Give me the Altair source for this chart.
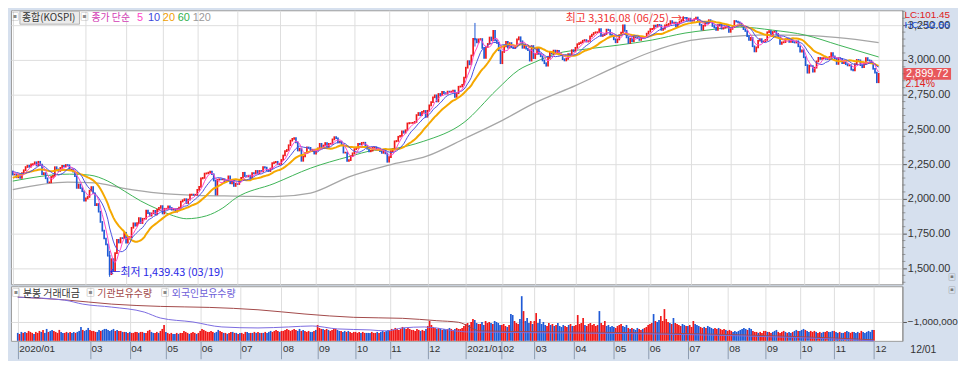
import altair as alt
import pandas as pd

# ---------------- data (KOSPI daily closes, read/estimated) ----------------
pre_2019_12 = [2087, 2068, 2068, 2064, 2081, 2098, 2099, 2105, 2137, 2170, 2168, 2195, 2195, 2196, 2204, 2203, 2190, 2197, 2204, 2197]

c2020_01 = [2175, 2176, 2155, 2176, 2151, 2186, 2206, 2229, 2239, 2231, 2248, 2251, 2263, 2240, 2267, 2246, 2177, 2185, 2148, 2119]
c2020_02 = [2119, 2158, 2166, 2228, 2212, 2201, 2223, 2238, 2233, 2244, 2242, 2209, 2210, 2196, 2163, 2079, 2104, 2077, 2055, 1987]
c2020_03 = [2003, 2014, 2059, 2085, 2040, 1955, 1963, 1908, 1834, 1771, 1715, 1672, 1591, 1458, 1566, 1482, 1610, 1705, 1686, 1718, 1717, 1755]
c2020_04 = [1685, 1725, 1725, 1792, 1824, 1807, 1826, 1861, 1826, 1857, 1857, 1915, 1898, 1879, 1896, 1914, 1889, 1923, 1935, 1948]
c2020_05 = [1895, 1929, 1929, 1946, 1935, 1922, 1925, 1908, 1927, 1937, 1981, 1990, 1998, 1970, 1995, 2030, 2031, 2029, 2030]
c2020_06 = [2065, 2087, 2147, 2151, 2182, 2184, 2189, 2196, 2177, 2132, 2031, 2138, 2141, 2140, 2141, 2127, 2131, 2162, 2112, 2135, 2093, 2108]
c2020_07 = [2107, 2135, 2152, 2188, 2164, 2161, 2167, 2150, 2186, 2184, 2201, 2184, 2201, 2198, 2229, 2225, 2207, 2200, 2218, 2257, 2263, 2267, 2249]
c2020_08 = [2251, 2280, 2312, 2343, 2352, 2386, 2419, 2432, 2438, 2407, 2348, 2361, 2274, 2305, 2330, 2370, 2367, 2344, 2354, 2326]
c2020_09 = [2350, 2363, 2396, 2368, 2384, 2402, 2376, 2396, 2397, 2428, 2444, 2436, 2406, 2412, 2389, 2333, 2333, 2273, 2279, 2308, 2328]
c2020_10 = [2358, 2366, 2396, 2392, 2403, 2404, 2380, 2361, 2342, 2347, 2369, 2371, 2355, 2361, 2344, 2331, 2345, 2327, 2267]
c2020_11 = [2300, 2343, 2357, 2414, 2417, 2447, 2453, 2486, 2476, 2494, 2543, 2546, 2546, 2547, 2554, 2603, 2618, 2602, 2626, 2633, 2591]
c2020_12 = [2634, 2673, 2696, 2731, 2745, 2701, 2755, 2746, 2770, 2761, 2757, 2772, 2770, 2772, 2779, 2734, 2760, 2807, 2809, 2821, 2873]
c2021_01 = [2944, 2991, 2968, 3032, 3152, 3148, 3126, 3148, 3150, 3086, 3014, 3093, 3115, 3161, 3141, 3209, 3140, 3123, 3069, 2976]
c2021_02 = [3057, 3097, 3130, 3088, 3121, 3091, 3085, 3101, 3147, 3163, 3134, 3087, 3108, 3080, 3070, 2995, 3100, 3013]
c2021_03 = [3043, 3083, 3044, 3026, 2996, 2976, 2958, 3014, 3054, 3046, 3067, 3048, 3066, 3040, 3035, 3005, 2996, 3008, 3041, 3036, 3070, 3061]
c2021_04 = [3087, 3113, 3121, 3127, 3138, 3143, 3132, 3136, 3169, 3182, 3194, 3199, 3199, 3221, 3172, 3178, 3186, 3218, 3215, 3181, 3174, 3148]
c2021_05 = [3127, 3147, 3179, 3197, 3249, 3209, 3162, 3122, 3153, 3135, 3173, 3162, 3156, 3144, 3162, 3166, 3165, 3189, 3204]
c2021_06 = [3222, 3224, 3247, 3240, 3252, 3248, 3216, 3224, 3249, 3252, 3259, 3279, 3265, 3268, 3241, 3264, 3276, 3286, 3303, 3302, 3287, 3297]
c2021_07 = [3282, 3282, 3293, 3305, 3285, 3253, 3218, 3246, 3271, 3265, 3286, 3277, 3244, 3233, 3215, 3250, 3254, 3225, 3232, 3237, 3243, 3202]
c2021_08 = [3223, 3237, 3280, 3276, 3270, 3260, 3243, 3221, 3208, 3171, 3143, 3159, 3098, 3061, 3090, 3138, 3149, 3129, 3134, 3144, 3199]
c2021_09 = [3207, 3176, 3201, 3203, 3187, 3163, 3115, 3126, 3128, 3149, 3153, 3130, 3141, 3128, 3125, 3134, 3098, 3060, 3069]
c2021_10 = [3019, 2962, 2908, 2959, 2956, 2916, 2944, 2989, 3015, 3007, 3013, 3013, 3007, 3006, 3021, 3049, 3025, 3010, 2971]
c2021_11 = [3013, 3008, 2976, 2983, 2969, 2960, 2962, 2930, 2925, 2969, 3000, 2997, 2962, 2947, 2971, 3013, 2997, 2994, 2980, 2936, 2909, 2839]
c2021_12 = [2899.72]

# daily bar values (lower panel)
v2020_01 = [8, 7, 9, 8, 9, 8, 10, 9, 8, 7, 9, 8, 10, 9, 11, 8, 12, 9, 10, 11]
v2020_02 = [10, 9, 8, 11, 9, 8, 8, 9, 8, 9, 8, 9, 8, 9, 10, 14, 11, 10, 11, 13]
v2020_03 = [11, 10, 10, 9, 9, 11, 10, 11, 12, 12, 11, 10, 11, 12, 10, 11, 10, 10, 9, 9, 9, 8]
v2020_04 = [9, 8, 8, 9, 9, 8, 9, 9, 8, 8, 10, 11, 9, 8, 8, 9, 8, 10, 12, 16]
v2020_05 = [9, 8, 7, 8, 7, 7, 8, 7, 8, 8, 10, 9, 8, 7, 8, 9, 8, 7, 8]
v2020_06 = [10, 12, 11, 10, 9, 9, 10, 9, 8, 9, 11, 10, 9, 8, 8, 7, 8, 9, 9, 8, 8, 7]
v2020_07 = [8, 8, 7, 9, 9, 8, 8, 8, 9, 8, 9, 8, 8, 8, 9, 8, 9, 10, 9, 10, 11, 10, 9]
v2020_08 = [10, 10, 11, 12, 11, 10, 11, 12, 11, 10, 12, 10, 11, 10, 9, 10, 9, 9, 10, 11]
v2020_09 = [16, 13, 12, 12, 11, 12, 11, 10, 11, 12, 12, 11, 10, 10, 9, 10, 9, 10, 9, 8, 9]
v2020_10 = [9, 8, 9, 8, 9, 8, 8, 8, 8, 9, 8, 8, 9, 8, 9, 10, 9, 10, 11]
v2020_11 = [10, 12, 11, 13, 12, 11, 12, 14, 13, 12, 13, 12, 11, 11, 10, 12, 11, 10, 11, 10, 12]
v2020_12 = [15, 20, 16, 14, 13, 12, 13, 12, 11, 12, 11, 12, 13, 12, 11, 12, 13, 12, 12, 13, 15]
v2021_01 = [17, 18, 16, 19, 22, 21, 18, 17, 17, 19, 16, 20, 18, 19, 18, 17, 20, 19, 18, 16]
v2021_02 = [16, 17, 15, 14, 16, 27, 26, 20, 18, 17, 22, 45, 30, 20, 23, 18, 20, 17]
v2021_03 = [20, 28, 18, 22, 17, 19, 16, 15, 18, 16, 17, 15, 16, 18, 15, 14, 16, 15, 14, 16, 17, 15]
v2021_04 = [15, 16, 26, 17, 18, 23, 16, 15, 17, 18, 16, 17, 15, 16, 30, 18, 16, 20, 15, 16, 14, 15]
v2021_05 = [14, 13, 15, 16, 17, 15, 14, 16, 13, 12, 13, 12, 11, 13, 12, 11, 12, 13, 14]
v2021_06 = [16, 17, 18, 27, 20, 19, 21, 25, 20, 32, 22, 19, 18, 17, 23, 18, 17, 16, 15, 17, 16, 15]
v2021_07 = [15, 16, 14, 20, 17, 16, 15, 14, 13, 14, 13, 15, 14, 13, 12, 13, 12, 13, 12, 11, 12, 11]
v2021_08 = [10, 11, 10, 9, 10, 9, 10, 11, 12, 13, 12, 11, 13, 12, 10, 9, 9, 8, 9, 8, 10]
v2021_09 = [10, 9, 9, 8, 9, 10, 11, 9, 8, 9, 10, 9, 8, 9, 8, 9, 10, 11, 10]
v2021_10 = [10, 11, 12, 11, 10, 9, 10, 9, 10, 9, 8, 9, 8, 9, 9, 10, 9, 9, 10]
v2021_11 = [10, 9, 8, 9, 8, 8, 9, 10, 9, 8, 9, 9, 8, 9, 8, 10, 9, 8, 9, 10, 9, 11]
v2021_12 = [11]

month_labels = ["2020/01", "", "03", "04", "05", "06", "07", "08", "09", "10", "11", "12",
                "2021/01", "02", "03", "04", "05", "06", "07", "08", "09", "10", "11", "12"]

# moving averages 60 / 120 (trading-day index, value)
ma60_idx = [0, 31, 42, 52, 61, 70, 79, 88, 95, 106, 115, 122, 143, 163, 184, 198, 206, 225, 247, 265, 277, 286, 297, 314, 332, 350, 368, 380, 398, 416, 434, 452, 474]
ma60_val = [2128, 2178, 2171, 2128, 2057, 1985, 1928, 1878, 1857, 1878, 1935, 2005, 2110, 2221, 2304, 2350, 2357, 2415, 2550, 2786, 2928, 2985, 3043, 3078, 3107, 3143, 3193, 3214, 3236, 3214, 3178, 3107, 3021]
ma120_idx = [0, 30, 45, 60, 80, 100, 123, 143, 163, 184, 206, 227, 248, 268, 286, 308, 330, 349, 371, 393, 414, 433, 452, 474]
ma120_val = [2066, 2120, 2115, 2078, 2041, 2025, 2020, 2016, 2042, 2158, 2243, 2309, 2438, 2565, 2692, 2815, 2950, 3055, 3140, 3168, 3180, 3176, 3160, 3125]

# holdings lines in the lower panel
inst_idx = [0, 26, 52, 79, 106, 133, 159, 186, 213, 232, 244, 256, 300, 350, 400, 450, 474]
inst_val = [250000, 115000, -100000, -215000, -265000, -385000, -600000, -765000, -815000, -935000, -1015000, -1450000, -1500000, -1550000, -1650000, -1800000, -1900000]
frgn_idx = [0, 26, 36, 52, 70, 79, 97, 113, 133, 150, 163, 177, 195, 204, 213, 225, 248, 300, 350, 400, 450, 474]
frgn_val = [250000, 100000, -100000, -250000, -500000, -800000, -1000000, -1250000, -1300000, -1250000, -1200000, -1350000, -1400000, -1450000, -1300000, -1250000, -1500000, -1550000, -1600000, -1700000, -1850000, -1950000]

# a few visible wicks
wick_idx = [53, 253, 367]
wick_hi = [1626, 3266, 3316]
wick_lo = [1439, 3096, 3285]
wick_dir = ["down", "down", "up"]

hi_idx, hi_val, hi_text = 367, 3316.08, "최고 3,316.08 (06/25) →"
lo_idx, lo_val, lo_text = 53, 1439.43, "←최저 1,439.43 (03/19)"

price_ticks = [1500, 1750, 2000, 2250, 2500, 2750, 3000, 3250]
minor_ticks = [v for v in range(1400, 3351, 50) if v not in price_ticks]

# ---------------- build tables ----------------
close_months = [c2020_01, c2020_02, c2020_03, c2020_04, c2020_05, c2020_06, c2020_07, c2020_08,
                c2020_09, c2020_10, c2020_11, c2020_12, c2021_01, c2021_02, c2021_03, c2021_04,
                c2021_05, c2021_06, c2021_07, c2021_08, c2021_09, c2021_10, c2021_11, c2021_12]
vol_months = [v2020_01, v2020_02, v2020_03, v2020_04, v2020_05, v2020_06, v2020_07, v2020_08,
              v2020_09, v2020_10, v2020_11, v2020_12, v2021_01, v2021_02, v2021_03, v2021_04,
              v2021_05, v2021_06, v2021_07, v2021_08, v2021_09, v2021_10, v2021_11, v2021_12]

rows = []
for k, c in enumerate(pre_2019_12):
    rows.append({"i": k - len(pre_2019_12), "close": c, "vol": 0})
i = 0
tick_vals, tick_labs = [], []
for lab, cs, vs in zip(month_labels, close_months, vol_months):
    if lab:
        tick_vals.append(i)
        tick_labs.append(lab)
    for c, v in zip(cs, vs):
        rows.append({"i": i, "close": c, "vol": v})
        i += 1
df = pd.DataFrame(rows)
label_expr = "".join(f"datum.value == {v} ? '{l}' : " for v, l in zip(tick_vals, tick_labs)) + "''"

last_close = c2021_12[-1]
prev_close = c2021_11[-1]
pct_text = f"{(last_close / prev_close - 1) * 100:.2f}%"

# ---------------- styling ----------------
W, H1, H2 = 898, 276, 55
KFONT = "Noto Sans CJK KR"
NFONT = "Liberation Sans"
GRID = "#dedede"
UP, DOWN = "#f01818", "#1f5ad6"

xscale = alt.Scale(domain=[-1, 487], nice=False, zero=False)
yscale = alt.Scale(domain=[3357 - H1 / 0.14, 3357], nice=False, zero=False)
xaxis_top = alt.Axis(values=tick_vals, labels=False, ticks=False, domain=False, grid=True,
                     gridColor=GRID, title=None)
xaxis_bot = alt.Axis(values=tick_vals, labelExpr=label_expr, grid=True, gridColor=GRID,
                     tickSize=18, tickColor="#8c9bb0", domain=False, title=None,
                     labelAlign="left", labelBaseline="top", labelPadding=-15, labelOffset=1,
                     labelOverlap=False, labelFlush=False, labelBound=False,
                     labelFont=NFONT, labelFontSize=10, labelColor="#333333")
yaxis_top = alt.Axis(orient="right", values=price_ticks, format=",.2f", grid=True, gridColor=GRID,
                     tickSize=4, tickColor="#555555", domainColor="#8a8a8a", labelPadding=1,
                     labelFont=NFONT, labelFontSize=11, labelColor="#333333", title=None)

X_TOP = alt.X("i:Q", scale=xscale, axis=xaxis_top)
X_BOT = alt.X("i:Q", scale=xscale, axis=xaxis_bot)
updown = alt.Color("up:N", scale=alt.Scale(domain=["up", "down"], range=[UP, DOWN]), legend=None)


def Yp(field):
    return alt.Y(field, scale=yscale, axis=yaxis_top)


def txt(s, x, y, color, size=10, align="left", font=KFONT):
    return alt.Chart(pd.DataFrame({"t": [s]})).mark_text(
        align=align, baseline="middle", color=color, fontSize=size, font=font
    ).encode(x=alt.value(x), y=alt.value(y), text="t:N")


def box(x1, x2, y1, y2, fill, stroke):
    return alt.Chart(pd.DataFrame({"a": [0]})).mark_rect(fill=fill, stroke=stroke, strokeWidth=1).encode(
        x=alt.value(x1), x2=alt.value(x2), y=alt.value(y1), y2=alt.value(y2))


sortI = [alt.SortField("i")]
base = (alt.Chart(df)
        .transform_window(open="lag(close)", sort=sortI)
        .transform_window(ma5="mean(close)", frame=[-4, 0], sort=sortI)
        .transform_window(ma10="mean(close)", frame=[-9, 0], sort=sortI)
        .transform_window(ma20="mean(close)", frame=[-19, 0], sort=sortI)
        .transform_filter("datum.i >= 0")
        .transform_calculate(up="datum.close >= datum.open ? 'up' : 'down'"))

# ---------------- top panel ----------------
ma120 = alt.Chart(pd.DataFrame({"i": ma120_idx, "v": ma120_val})).mark_line(
    color="#a6a6a6", strokeWidth=1.3, interpolate="monotone").encode(x=X_TOP, y=Yp("v:Q"))
ma60 = alt.Chart(pd.DataFrame({"i": ma60_idx, "v": ma60_val})).mark_line(
    color="#3db356", strokeWidth=1, interpolate="monotone").encode(x=X_TOP, y=Yp("v:Q"))
candles = base.mark_rule(strokeWidth=1.7, strokeCap="square").encode(
    x=X_TOP, y=Yp("open:Q"), y2="close:Q", color=updown)
wicks = alt.Chart(pd.DataFrame({"i": wick_idx, "hi": wick_hi, "lo": wick_lo, "up": wick_dir})).mark_rule(
    strokeWidth=1).encode(x=X_TOP, y=Yp("lo:Q"), y2="hi:Q", color=updown)
ma20 = base.mark_line(color="#f5a800", strokeWidth=2).encode(x=X_TOP, y=Yp("ma20:Q"))
ma10 = base.mark_line(color="#4a52e2", strokeWidth=1).encode(x=X_TOP, y=Yp("ma10:Q"))
ma5 = base.mark_line(color="#ff48c8", strokeWidth=1).encode(x=X_TOP, y=Yp("ma5:Q"))

ann_hi = alt.Chart(pd.DataFrame({"i": [hi_idx], "v": [hi_val], "t": [hi_text]})).mark_text(
    align="right", baseline="middle", dx=-1, dy=3, color="#f03232", fontSize=11, font=KFONT
).encode(x=X_TOP, y=Yp("v:Q"), text="t:N")
ann_lo = alt.Chart(pd.DataFrame({"i": [lo_idx], "v": [lo_val], "t": [lo_text]})).mark_text(
    align="left", baseline="middle", dx=0, dy=-4, color="#2a2ae6", fontSize=11, font=KFONT
).encode(x=X_TOP, y=Yp("v:Q"), text="t:N")

minor = alt.Chart(pd.DataFrame({"v": minor_ticks})).mark_tick(
    orient="horizontal", size=3, thickness=1, color="#777777").encode(x=alt.value(W + 1.5), y=Yp("v:Q"))

last_df = pd.DataFrame({"v": [last_close], "t": [f"{last_close:,.2f}"]})
price_box = alt.Chart(last_df).mark_tick(orient="horizontal", size=48, thickness=12, color="#f01e1e").encode(
    x=alt.value(W + 25), y=Yp("v:Q"))
price_txt = alt.Chart(last_df).mark_text(align="center", baseline="middle", color="white",
                                         fontSize=11, font=NFONT).encode(
    x=alt.value(W + 25), y=Yp("v:Q"), text="t:N")

top = alt.layer(
    ma120, ma60, candles, wicks, ma20, ma10, ma5, ann_hi, ann_lo, minor,
    box(9, 69, 1, 14, "#ebebeb", "#b4b4b4"),
    txt("▣", 4, 7, "#8a8a8a", size=9, align="center"),
    txt("종합(KOSPI)", 11, 8, "#333333", size=10),
    txt("▣", 74, 7, "#8a8a8a", size=9, align="center"),
    txt("종가 단순", 81, 8, "#d23cb4"),
    txt("5", 127, 8, "#ff46c8", font=NFONT, size=11),
    txt("10", 138, 8, "#3c46dc", font=NFONT, size=11),
    txt("20", 153, 8, "#f0a000", font=NFONT, size=11),
    txt("60", 168, 8, "#30b04c", font=NFONT, size=11),
    txt("120", 183, 8, "#9a9a9a", font=NFONT, size=11),
    txt("LC:101.45", W + 2, 5, "#e02020", size=10, font=NFONT),
    txt("HC:-12.56", W + 2, 15, "#2050d0", size=10, font=NFONT),
    price_box, price_txt,
    txt(pct_text, W + 3, 74, "#e02020", size=10.5, font=NFONT),
    txt("▣", W + 50, H1 - 6, "#7a7a7a", size=8, align="center"),
).properties(width=W, height=H1)

# ---------------- bottom panel ----------------
bars = base.mark_bar(size=1.7).encode(
    x=X_BOT, y=alt.Y("vol:Q", scale=alt.Scale(domain=[0, 55], nice=False), axis=None), color=updown)

hold_df = pd.concat([
    pd.DataFrame({"i": inst_idx, "v": inst_val, "s": "기관보유수량"}),
    pd.DataFrame({"i": frgn_idx, "v": frgn_val, "s": "외국인보유수량"}),
])
hold = alt.Chart(hold_df).mark_line(strokeWidth=1, interpolate="monotone").encode(
    x=X_BOT,
    y=alt.Y("v:Q", scale=alt.Scale(domain=[-1950000, 800000], nice=False, zero=False),
            axis=alt.Axis(orient="right", values=[-1000000], format=",d", grid=True, gridColor=GRID,
                          tickSize=4, tickColor="#555555", domainColor="#8a8a8a", labelPadding=1,
                          labelFont=NFONT, labelFontSize=10, labelColor="#333333", title=None)),
    color=alt.Color("s:N", scale=alt.Scale(domain=["기관보유수량", "외국인보유수량"],
                                           range=["#a24a4a", "#7b6be0"]), legend=None),
    detail="s:N")

bottom = alt.layer(
    bars, hold,
    txt("▣", 5, 7, "#8a8a8a", size=9, align="center"),
    txt("분봉 거래대금", 12, 8, "#333333"),
    txt("▣", 80, 7, "#8a8a8a", size=9, align="center"),
    txt("기관보유수량", 87, 8, "#a24a4a"),
    txt("▣", 155, 7, "#8a8a8a", size=9, align="center"),
    txt("외국인보유수량", 162, 8, "#6f5fd8"),
    txt("▣", W + 50, 5, "#7a7a7a", size=8, align="center"),
    txt("12/01", W + 8, H2 + 9, "#333333", size=10.5, font=NFONT),
).resolve_scale(y="independent", color="independent").properties(width=W, height=H2)

chart = (alt.vconcat(top, bottom, spacing=0)
         .properties(padding=0, background="#d6e0ee")
         .configure_view(fill="white", stroke="#9c9c9c", strokeWidth=1))

chart.save("out.html", embed_options={"renderer": "svg", "actions": False})
